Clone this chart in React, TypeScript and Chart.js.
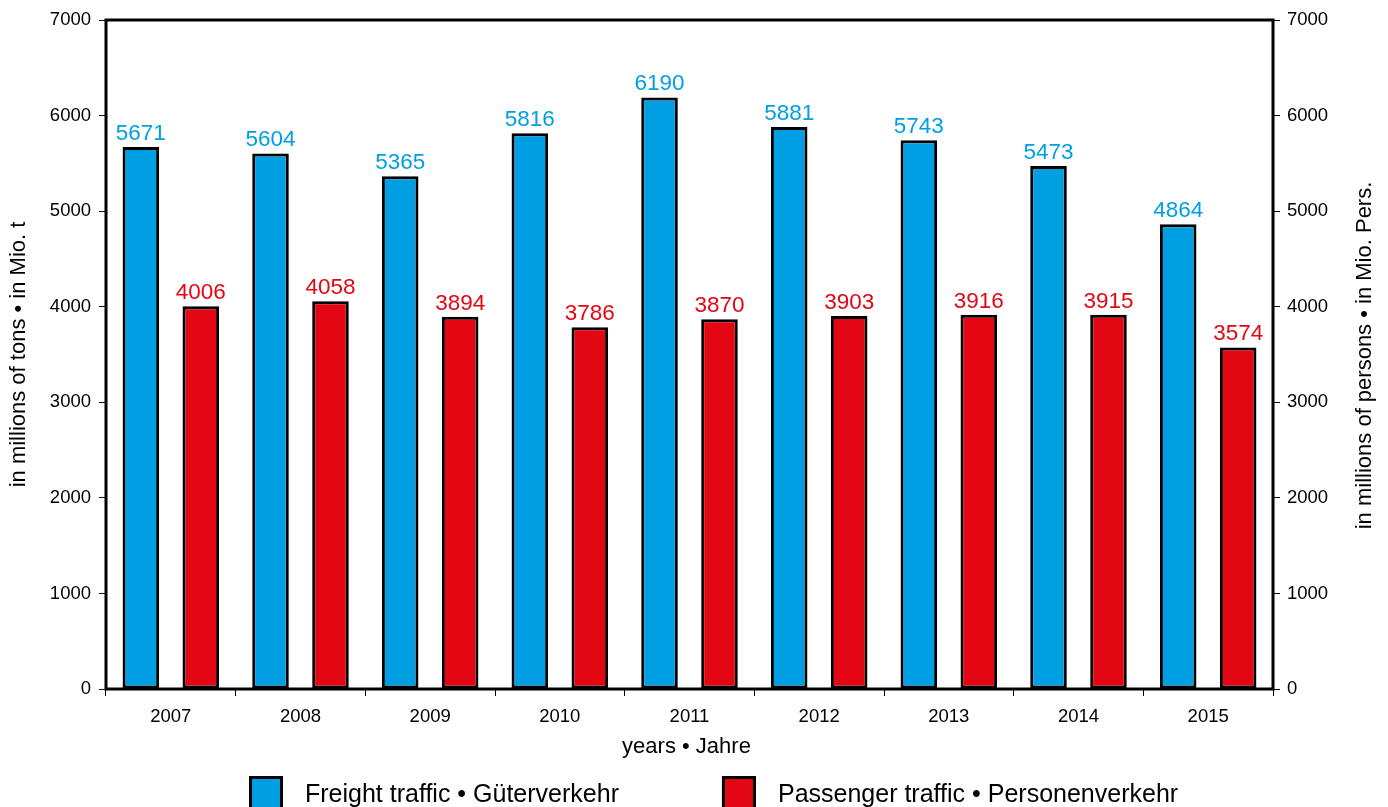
import React, { useEffect, useRef } from "react";
import { Chart, registerables } from "chart.js";

Chart.register(...registerables);

const years = ["2007", "2008", "2009", "2010", "2011", "2012", "2013", "2014", "2015"];
const freight = [5671, 5604, 5365, 5816, 6190, 5881, 5743, 5473, 4864];
const passenger = [4006, 4058, 3894, 3786, 3870, 3903, 3916, 3915, 3574];
const seriesLabels = ["Freight traffic • Güterverkehr", "Passenger traffic • Personenverkehr"];
const yTitleLeft = "in millions of tons • in Mio. t";
const yTitleRight = "in millions of persons • in Mio. Pers.";
const xTitle = "years • Jahre";

const BLUE = "#009FE3";
const RED = "#E30613";
const FONT = "'Liberation Sans', Arial, Helvetica, sans-serif";

const decorPlugin = {
  id: "decor",
  afterDatasetsDraw(chart: any) {
    const ctx = chart.ctx;
    const a = chart.chartArea;
    ctx.save();
    // frame
    ctx.strokeStyle = "#000";
    ctx.lineWidth = 3;
    ctx.strokeRect(a.left, a.top, a.right - a.left, a.bottom - a.top);
    // value labels
    ctx.font = `22.5px ${FONT}`;
    ctx.textAlign = "center";
    ctx.textBaseline = "alphabetic";
    chart.data.datasets.forEach((ds: any, di: number) => {
      const meta = chart.getDatasetMeta(di);
      ctx.fillStyle = ds.backgroundColor;
      meta.data.forEach((bar: any, i: number) => {
        ctx.fillText(String(ds.data[i]), bar.x, bar.y - 7);
      });
    });
    // axis titles
    ctx.fillStyle = "#000";
    ctx.font = `22px ${FONT}`;
    ctx.textBaseline = "middle";
    ctx.textAlign = "center";
    const midY = (a.top + a.bottom) / 2;
    ctx.save();
    ctx.translate(19, midY);
    ctx.rotate(-Math.PI / 2);
    ctx.fillText(yTitleLeft, 0, 0);
    ctx.restore();
    ctx.save();
    ctx.translate(a.right + 92, midY + 1);
    ctx.rotate(-Math.PI / 2);
    ctx.fillText(yTitleRight, 0, 0);
    ctx.restore();
    ctx.fillText(xTitle, (a.left + a.right) / 2 - 3, a.bottom + 58);
    // legend
    ctx.font = `25px ${FONT}`;
    ctx.textAlign = "left";
    ctx.textBaseline = "alphabetic";
    const boxTop = a.bottom + 87;
    let x = a.left + 143;
    chart.data.datasets.forEach((ds: any) => {
      ctx.fillStyle = ds.backgroundColor;
      ctx.fillRect(x, boxTop, 34, 34);
      ctx.strokeStyle = "#000";
      ctx.lineWidth = 3;
      ctx.strokeRect(x + 1.5, boxTop + 1.5, 31, 31);
      ctx.fillStyle = "#000";
      ctx.fillText(ds.label, x + 56, boxTop + 26);
      const w = ctx.measureText(ds.label).width;
      x = x + 56 + w + 103;
    });
    ctx.restore();
  },
};

export default function App() {
  const ref = useRef<HTMLCanvasElement | null>(null);
  useEffect(() => {
    if (!ref.current) return;
    const tickFont = { family: FONT, size: 18.5 };
    const plain = (v: any) => String(v);
    const chart = new Chart(ref.current, {
      type: "bar",
      data: {
        labels: years,
        datasets: [
          {
            label: seriesLabels[0],
            data: freight,
            backgroundColor: BLUE,
            borderColor: "#000",
            borderWidth: 3,
            borderSkipped: false,
            yAxisID: "y",
          },
          {
            label: seriesLabels[1],
            data: passenger,
            backgroundColor: RED,
            borderColor: "#000",
            borderWidth: 3,
            borderSkipped: false,
            yAxisID: "y",
          },
        ],
      },
      options: {
        responsive: false,
        animation: false,
        events: [],
        layout: { padding: { top: 20, left: 0, right: 0, bottom: 0 } },
        datasets: { bar: { categoryPercentage: 0.925, barPercentage: 0.61 } },
        plugins: { legend: { display: false }, tooltip: { enabled: false }, title: { display: false } },
        scales: {
          x: {
            grid: { offset: true, drawOnChartArea: false, tickLength: 7, color: "#000", lineWidth: 1 },
            border: { display: false },
            ticks: { font: tickFont, color: "#000", padding: 10, maxRotation: 0 },
            afterFit(s: any) {
              s.height = 118;
            },
          },
          y: {
            position: "left",
            min: 0,
            max: 7000,
            grid: { drawOnChartArea: false, tickLength: 7, color: "#000", lineWidth: 1 },
            border: { display: false },
            ticks: { stepSize: 1000, font: tickFont, color: "#000", padding: 8, callback: plain },
            afterFit(s: any) {
              s.width = 106;
            },
          },
          y2: {
            position: "right",
            min: 0,
            max: 7000,
            grid: { drawOnChartArea: false, tickLength: 7, color: "#000", lineWidth: 1 },
            border: { display: false },
            ticks: { stepSize: 1000, font: tickFont, color: "#000", padding: 7, callback: plain },
            afterFit(s: any) {
              s.width = 115;
            },
          },
        },
      },
      plugins: [decorPlugin],
    } as any);
    return () => chart.destroy();
  }, []);
  return (
    <div style={{ position: "absolute", left: 0, top: 0, width: 1388, height: 807, background: "#fff", overflow: "hidden" }}>
      <canvas ref={ref} width={1388} height={807} style={{ display: "block" }} />
    </div>
  );
}
